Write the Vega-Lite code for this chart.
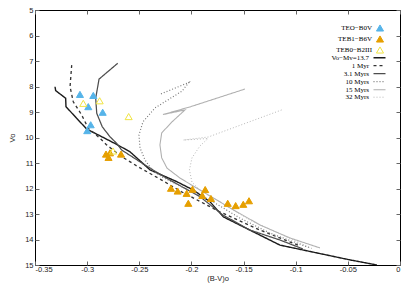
{
  "$schema": "https://vega.github.io/schema/vega-lite/v6.json",
  "width": 365,
  "height": 255,
  "autosize": {"type": "none"},
  "padding": {"left": 35, "top": 10, "right": 15, "bottom": 26},
  "background": "white",
  "config": {
    "view": {"stroke": "#000", "strokeWidth": 1},
    "axis": {"grid": false, "domain": false, "labelFont": "Liberation Sans", "titleFont": "Liberation Sans", "labelFontSize": 7.5, "titleFontSize": 7.5, "titleFontWeight": "normal", "labelColor": "#222", "titleColor": "#222", "tickColor": "#666", "tickSize": -4},
    "legend": {"labelFont": "Liberation Serif", "labelFontSize": 7, "labelColor": "#000", "padding": 0, "title": null}
  },
  "datasets": {
    "stars": [
      {"g": "TEO−B0V", "x": -0.3069, "y": 8.31},
      {"g": "TEO−B0V", "x": -0.2941, "y": 8.35},
      {"g": "TEO−B0V", "x": -0.2989, "y": 8.79},
      {"g": "TEO−B0V", "x": -0.2851, "y": 9.01},
      {"g": "TEO−B0V", "x": -0.2966, "y": 9.50},
      {"g": "TEO−B0V", "x": -0.2999, "y": 9.73},
      {"g": "TEB1−B6V", "x": -0.2819, "y": 10.65},
      {"g": "TEB1−B6V", "x": -0.2781, "y": 10.60},
      {"g": "TEB1−B6V", "x": -0.2795, "y": 10.78},
      {"g": "TEB1−B6V", "x": -0.2675, "y": 10.65},
      {"g": "TEB1−B6V", "x": -0.2196, "y": 11.99},
      {"g": "TEB1−B6V", "x": -0.2132, "y": 12.10},
      {"g": "TEB1−B6V", "x": -0.2046, "y": 12.19},
      {"g": "TEB1−B6V", "x": -0.1990, "y": 12.03},
      {"g": "TEB1−B6V", "x": -0.1868, "y": 12.04},
      {"g": "TEB1−B6V", "x": -0.1896, "y": 12.27},
      {"g": "TEB1−B6V", "x": -0.1813, "y": 12.39},
      {"g": "TEB1−B6V", "x": -0.2030, "y": 12.58},
      {"g": "TEB1−B6V", "x": -0.1652, "y": 12.58},
      {"g": "TEB1−B6V", "x": -0.1576, "y": 12.67},
      {"g": "TEB1−B6V", "x": -0.1503, "y": 12.62},
      {"g": "TEB1−B6V", "x": -0.1448, "y": 12.48},
      {"g": "TEB0−B2III", "x": -0.3037, "y": 8.66},
      {"g": "TEB0−B2III", "x": -0.2880, "y": 8.56},
      {"g": "TEB0−B2III", "x": -0.2602, "y": 9.18},
      {"g": "TEB0−B2III", "x": -0.2752, "y": 10.53}
    ],
    "iso": [
      {"s": "Vo−Mv=13.7", "o": 1, "x": -0.3308, "y": 8.01},
      {"s": "Vo−Mv=13.7", "o": 2, "x": -0.3302, "y": 8.16},
      {"s": "Vo−Mv=13.7", "o": 3, "x": -0.3206, "y": 8.46},
      {"s": "Vo−Mv=13.7", "o": 4, "x": -0.3203, "y": 8.79},
      {"s": "Vo−Mv=13.7", "o": 5, "x": -0.3100, "y": 9.25},
      {"s": "Vo−Mv=13.7", "o": 6, "x": -0.3004, "y": 9.67},
      {"s": "Vo−Mv=13.7", "o": 7, "x": -0.2893, "y": 9.90},
      {"s": "Vo−Mv=13.7", "o": 8, "x": -0.2717, "y": 10.27},
      {"s": "Vo−Mv=13.7", "o": 9, "x": -0.2589, "y": 10.56},
      {"s": "Vo−Mv=13.7", "o": 10, "x": -0.2397, "y": 11.27},
      {"s": "Vo−Mv=13.7", "o": 11, "x": -0.2141, "y": 11.73},
      {"s": "Vo−Mv=13.7", "o": 12, "x": -0.1982, "y": 12.06},
      {"s": "Vo−Mv=13.7", "o": 13, "x": -0.1822, "y": 12.52},
      {"s": "Vo−Mv=13.7", "o": 14, "x": -0.1695, "y": 13.11},
      {"s": "Vo−Mv=13.7", "o": 15, "x": -0.1151, "y": 14.22},
      {"s": "Vo−Mv=13.7", "o": 16, "x": -0.0480, "y": 14.80},
      {"s": "Vo−Mv=13.7", "o": 17, "x": -0.0221, "y": 15.0},
      {"s": "1 Myr", "o": 1, "x": -0.3148, "y": 7.16},
      {"s": "1 Myr", "o": 2, "x": -0.3164, "y": 8.01},
      {"s": "1 Myr", "o": 3, "x": -0.3133, "y": 8.60},
      {"s": "1 Myr", "o": 4, "x": -0.3052, "y": 9.12},
      {"s": "1 Myr", "o": 5, "x": -0.2989, "y": 9.64},
      {"s": "1 Myr", "o": 6, "x": -0.2877, "y": 10.03},
      {"s": "1 Myr", "o": 7, "x": -0.2813, "y": 10.29},
      {"s": "1 Myr", "o": 8, "x": -0.2669, "y": 10.75},
      {"s": "1 Myr", "o": 9, "x": -0.2510, "y": 11.15},
      {"s": "1 Myr", "o": 10, "x": -0.2285, "y": 11.67},
      {"s": "1 Myr", "o": 11, "x": -0.2094, "y": 12.13},
      {"s": "1 Myr", "o": 12, "x": -0.1726, "y": 12.92},
      {"s": "1 Myr", "o": 13, "x": -0.1343, "y": 13.63},
      {"s": "1 Myr", "o": 14, "x": -0.0960, "y": 14.25},
      {"s": "3.1 Myrs", "o": 1, "x": -0.2707, "y": 7.09},
      {"s": "3.1 Myrs", "o": 2, "x": -0.2886, "y": 7.71},
      {"s": "3.1 Myrs", "o": 3, "x": -0.2918, "y": 8.46},
      {"s": "3.1 Myrs", "o": 4, "x": -0.2908, "y": 9.05},
      {"s": "3.1 Myrs", "o": 5, "x": -0.2855, "y": 9.58},
      {"s": "3.1 Myrs", "o": 6, "x": -0.2781, "y": 9.97},
      {"s": "3.1 Myrs", "o": 7, "x": -0.2717, "y": 10.23},
      {"s": "3.1 Myrs", "o": 8, "x": -0.2669, "y": 10.49},
      {"s": "3.1 Myrs", "o": 9, "x": -0.2445, "y": 11.08},
      {"s": "3.1 Myrs", "o": 10, "x": -0.2237, "y": 11.60},
      {"s": "3.1 Myrs", "o": 11, "x": -0.1918, "y": 12.32},
      {"s": "3.1 Myrs", "o": 12, "x": -0.1698, "y": 13.04},
      {"s": "3.1 Myrs", "o": 13, "x": -0.1439, "y": 13.63},
      {"s": "3.1 Myrs", "o": 14, "x": -0.1151, "y": 14.02},
      {"s": "3.1 Myrs", "o": 15, "x": -0.0931, "y": 14.37},
      {"s": "10 Myrs", "o": 1, "x": -0.2292, "y": 8.29},
      {"s": "10 Myrs", "o": 2, "x": -0.2024, "y": 7.84},
      {"s": "10 Myrs", "o": 3, "x": -0.2090, "y": 8.18},
      {"s": "10 Myrs", "o": 4, "x": -0.2349, "y": 8.84},
      {"s": "10 Myrs", "o": 5, "x": -0.2465, "y": 9.39},
      {"s": "10 Myrs", "o": 6, "x": -0.2503, "y": 9.90},
      {"s": "10 Myrs", "o": 7, "x": -0.2493, "y": 10.41},
      {"s": "10 Myrs", "o": 8, "x": -0.2445, "y": 10.88},
      {"s": "10 Myrs", "o": 9, "x": -0.2378, "y": 11.27},
      {"s": "10 Myrs", "o": 10, "x": -0.2282, "y": 11.55},
      {"s": "10 Myrs", "o": 11, "x": -0.2110, "y": 11.90},
      {"s": "10 Myrs", "o": 12, "x": -0.1822, "y": 12.45},
      {"s": "10 Myrs", "o": 13, "x": -0.1535, "y": 13.16},
      {"s": "10 Myrs", "o": 14, "x": -0.1247, "y": 13.75},
      {"s": "10 Myrs", "o": 15, "x": -0.0863, "y": 14.33},
      {"s": "15 Myrs", "o": 1, "x": -0.1487, "y": 8.10},
      {"s": "15 Myrs", "o": 2, "x": -0.2014, "y": 8.80},
      {"s": "15 Myrs", "o": 3, "x": -0.2273, "y": 9.10},
      {"s": "15 Myrs", "o": 4, "x": -0.2062, "y": 8.92},
      {"s": "15 Myrs", "o": 5, "x": -0.2187, "y": 9.39},
      {"s": "15 Myrs", "o": 6, "x": -0.2285, "y": 9.82},
      {"s": "15 Myrs", "o": 7, "x": -0.2302, "y": 10.29},
      {"s": "15 Myrs", "o": 8, "x": -0.2285, "y": 10.80},
      {"s": "15 Myrs", "o": 9, "x": -0.2234, "y": 11.20},
      {"s": "15 Myrs", "o": 10, "x": -0.2110, "y": 11.59},
      {"s": "15 Myrs", "o": 11, "x": -0.1918, "y": 12.06},
      {"s": "15 Myrs", "o": 12, "x": -0.1630, "y": 12.76},
      {"s": "15 Myrs", "o": 13, "x": -0.1343, "y": 13.43},
      {"s": "15 Myrs", "o": 14, "x": -0.1055, "y": 13.94},
      {"s": "15 Myrs", "o": 15, "x": -0.0768, "y": 14.33},
      {"s": "32 Myrs", "o": 1, "x": -0.1135, "y": 8.92},
      {"s": "32 Myrs", "o": 2, "x": -0.1838, "y": 9.98},
      {"s": "32 Myrs", "o": 3, "x": -0.2078, "y": 10.10},
      {"s": "32 Myrs", "o": 4, "x": -0.1841, "y": 10.04},
      {"s": "32 Myrs", "o": 5, "x": -0.1918, "y": 10.33},
      {"s": "32 Myrs", "o": 6, "x": -0.1995, "y": 10.80},
      {"s": "32 Myrs", "o": 7, "x": -0.2019, "y": 11.27},
      {"s": "32 Myrs", "o": 8, "x": -0.1995, "y": 11.75},
      {"s": "32 Myrs", "o": 9, "x": -0.1918, "y": 12.06},
      {"s": "32 Myrs", "o": 10, "x": -0.1726, "y": 12.53},
      {"s": "32 Myrs", "o": 11, "x": -0.1439, "y": 13.24},
      {"s": "32 Myrs", "o": 12, "x": -0.1151, "y": 13.78},
      {"s": "32 Myrs", "o": 13, "x": -0.0835, "y": 14.37}
    ]
  },
  "resolve": {"axis": {"x": "independent", "y": "independent"}},
  "layer": [
    {
      "data": {"name": "iso"},
      "mark": {"type": "line", "clip": true, "strokeCap": "butt"},
      "encoding": {
        "x": {"field": "x", "type": "quantitative", "scale": {"domain": [-0.35, 0], "nice": false, "zero": false},
          "axis": {"orient": "bottom", "values": [-0.35, -0.3, -0.25, -0.2, -0.15, -0.1, -0.05, 0], "labelExpr": "replace(format(datum.value, '~g'), '\u2212', '-')", "title": "(B-V)o", "labelPadding": 4, "titlePadding": 2}},
        "y": {"field": "y", "type": "quantitative", "scale": {"domain": [5, 15], "reverse": true, "nice": false, "zero": false},
          "axis": {"orient": "left", "values": [5, 6, 7, 8, 9, 10, 11, 12, 13, 14, 15], "title": "Vo", "labelPadding": 6, "titlePadding": 8}},
        "order": {"field": "o", "type": "quantitative"},
        "color": {"field": "s", "type": "nominal",
          "scale": {"domain": ["Vo−Mv=13.7", "1 Myr", "3.1 Myrs", "10 Myrs", "15 Myrs", "32 Myrs"], "range": ["#1a1a1a", "#333333", "#4d4d4d", "#777777", "#b0b0b0", "#b8b8b8"]},
          "legend": {"orient": "none", "legendX": 339.5, "legendY": 42.7, "symbolType": "M -1.5 0 L 1.5 0", "symbolSize": 64, "rowPadding": 0, "labelAlign": "right", "labelOffset": -15.5, "labelLimit": 100}},
        "strokeDash": {"field": "s", "type": "nominal",
          "scale": {"domain": ["Vo−Mv=13.7", "1 Myr", "3.1 Myrs", "10 Myrs", "15 Myrs", "32 Myrs"], "range": [[1, 0], [3, 3], [1, 0], [1, 2], [1, 0], [1, 2]]}},
        "strokeWidth": {"field": "s", "type": "nominal",
          "scale": {"domain": ["Vo−Mv=13.7", "1 Myr", "3.1 Myrs", "10 Myrs", "15 Myrs", "32 Myrs"], "range": [1.4, 1, 1.2, 1, 1, 1]}}
      }
    },
    {
      "data": {"name": "stars"},
      "mark": {"type": "point", "shape": "triangle-up", "size": 50, "strokeWidth": 1, "opacity": 1, "filled": false},
      "encoding": {
        "x": {"field": "x", "type": "quantitative", "axis": null},
        "y": {"field": "y", "type": "quantitative", "axis": null},
        "fill": {"field": "g", "type": "nominal",
          "scale": {"domain": ["TEO−B0V", "TEB1−B6V", "TEB0−B2III"], "range": ["#56b4e9", "#e69f00", "transparent"]},
          "legend": {"orient": "none", "legendX": 340.5, "legendY": 13.5, "symbolType": "triangle-up", "symbolSize": 50, "rowPadding": 0, "labelAlign": "right", "labelOffset": -12.5, "labelLimit": 100, "symbolStrokeWidth": 1}},
        "stroke": {"field": "g", "type": "nominal",
          "scale": {"domain": ["TEO−B0V", "TEB1−B6V", "TEB0−B2III"], "range": ["#56b4e9", "#e69f00", "#f0e442"]}}
      }
    },
    {
      "data": {"name": "stars"},
      "mark": {"type": "point", "opacity": 0},
      "encoding": {
        "x": {"field": "x", "type": "quantitative", "axis": {"orient": "top", "values": [-0.35, -0.3, -0.25, -0.2, -0.15, -0.1, -0.05, 0], "labels": false, "title": null}},
        "y": {"field": "y", "type": "quantitative", "axis": {"orient": "right", "values": [5, 6, 7, 8, 9, 10, 11, 12, 13, 14, 15], "labels": false, "title": null}}
      }
    }
  ]
}
